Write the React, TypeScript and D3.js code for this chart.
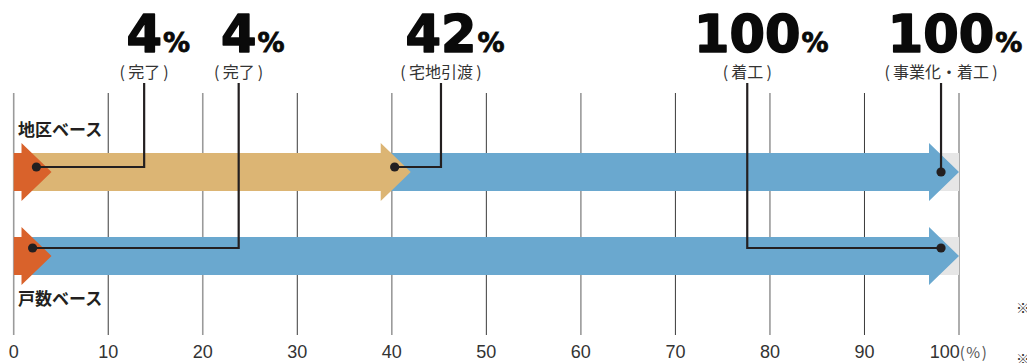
import React from "react";
import * as d3 from "d3";

// ---- data ----
const rows = ["地区ベース", "戸数ベース"];
// progress segments per row: [row, end value (%), kind]
const segRow = [0, 0, 0, 1, 1];
const segEnd = [100, 42, 4, 100, 4];
const segKind = ["blue", "tan", "orange", "blue", "orange"];

const ticks = [0, 10, 20, 30, 40, 50, 60, 70, 80, 90, 100];

// annotations
const annValue = ["4", "4", "42", "100", "100"];
const annNote = ["完了", "完了", "宅地引渡", "着工", "事業化・着工"];
const annRow = [0, 1, 0, 1, 0];
const annDot = [2.4, 2.0, 40.3, 98.1, 98.3];
const annLeader = [13.8, 23.8, 45.2, 77.6, 98.1];

const COLORS: Record<string, string> = {
  blue: "#6aa8cf",
  tan: "#dcb574",
  orange: "#d9622b",
};

const W = 1027;
const H = 363;

export default function App() {
  const x = d3.scaleLinear().domain([0, 100]).range([13.7, 959]);
  const y = d3.scalePoint<string>().domain(rows).range([172, 256]);

  const barHalf = 19;
  const headHalf = 29;
  const headLen = 30;

  const arrowPath = (end: number, cy: number) => {
    const x0 = x(0);
    const xt = x(end);
    const xb = xt - headLen;
    const p = d3.path();
    p.moveTo(x0, cy - barHalf);
    p.lineTo(xb, cy - barHalf);
    p.lineTo(xb, cy - headHalf);
    p.lineTo(xt, cy);
    p.lineTo(xb, cy + headHalf);
    p.lineTo(xb, cy + barHalf);
    p.lineTo(x0, cy + barHalf);
    p.closePath();
    return p.toString();
  };

  const numSize = 51;
  const digitAdv = 0.6958 * numSize;
  const numFont = "'DejaVu Sans', sans-serif";
  const cjk = "'Noto Sans CJK JP', sans-serif";
  const latin = "'Liberation Sans', Arial, sans-serif";

  const gridTop = 93;
  const gridBottom = 335;

  return (
    <svg
      width={W}
      height={H}
      style={{ position: "absolute", left: 0, top: 0, background: "#fff" }}
    >
      {/* gridlines */}
      {ticks.map((t, i) => (
        <line
          key={"g" + t}
          x1={x(t)}
          x2={x(t)}
          y1={gridTop}
          y2={gridBottom}
          stroke={i % 2 === 0 ? "#9a9a9a" : "#3a3a3a"}
          strokeWidth={i % 2 === 0 ? 1.6 : 1}
        />
      ))}

      {/* track backgrounds */}
      {rows.map((r) => (
        <rect
          key={"bg" + r}
          x={x(0)}
          y={(y(r) as number) - barHalf}
          width={x(100) - x(0)}
          height={barHalf * 2}
          fill="#e6e6e6"
        />
      ))}

      {/* arrows */}
      {segEnd.map((e, i) => (
        <path
          key={"s" + i}
          d={arrowPath(e, y(rows[segRow[i]]) as number)}
          fill={COLORS[segKind[i]]}
        />
      ))}

      {/* row labels */}
      <text
        x={18}
        y={(y(rows[0]) as number) - 36}
        fontFamily={cjk}
        fontWeight={700}
        fontSize={17}
        fill="#231f20"
      >
        {rows[0]}
      </text>
      <text
        x={18}
        y={(y(rows[1]) as number) + 49}
        fontFamily={cjk}
        fontWeight={700}
        fontSize={17}
        fill="#231f20"
      >
        {rows[1]}
      </text>

      {/* annotations */}
      {annValue.map((v, i) => {
        const cy = y(rows[annRow[i]]) as number;
        const dx = x(annDot[i]);
        const lx = x(annLeader[i]);
        const straight = Math.abs(dx - lx) < 3;
        const ly = annRow[i] === 0 ? (straight ? cy : cy - 5) : cy - 8;
        const pts = straight
          ? `${lx},${83} ${lx},${ly}`
          : `${dx},${ly} ${lx},${ly} ${lx},${83}`;
        const halfW = (v.length * digitAdv) / 2;
        return (
          <g key={"a" + i}>
            <polyline
              points={pts}
              fill="none"
              stroke="#231f20"
              strokeWidth={2.2}
            />
            <circle cx={straight ? lx : dx} cy={ly} r={4.6} fill="#231f20" />
            <text
              x={lx}
              y={52}
              textAnchor="middle"
              fontFamily={numFont}
              fontWeight={700}
              fontSize={numSize}
              fill="#0a0a0a"
              stroke="#0a0a0a"
              strokeWidth={1.6}
              strokeLinejoin="round"
            >
              {v}
            </text>
            <text
              x={lx + halfW + 1}
              y={52}
              fontFamily={numFont}
              fontWeight={700}
              fontSize={27}
              fill="#0a0a0a"
              stroke="#0a0a0a"
              strokeWidth={0.8}
            >
              %
            </text>
            <text
              x={lx}
              y={78}
              textAnchor="middle"
              fontFamily={cjk}
              fontSize={16}
              fill="#333"
            >
              {"(\u2009" + annNote[i] + "\u2009)"}
            </text>
          </g>
        );
      })}

      {/* axis labels */}
      {ticks.map((t) =>
        t === 100 ? (
          <text
            key={"t" + t}
            x={x(t)}
            y={358}
            textAnchor="middle"
            fontFamily={latin}
            fontSize={18}
            fill="#333"
          >
            {t}
            <tspan fontFamily={cjk} fontSize={15} fill="#555" letterSpacing={1.5}>
              {"(%)"}
            </tspan>
          </text>
        ) : (
          <text
            key={"t" + t}
            x={x(t)}
            y={358}
            textAnchor="middle"
            fontFamily={latin}
            fontSize={18}
            fill="#333"
          >
            {t}
          </text>
        )
      )}

      {/* footnote marks (cut off at the right edge, as in the source) */}
      <text x={1016} y={313} fontFamily={cjk} fontSize={14} fill="#333">
        ※
      </text>
      <text x={1016} y={364} fontFamily={cjk} fontSize={14} fill="#333">
        ※
      </text>
    </svg>
  );
}
